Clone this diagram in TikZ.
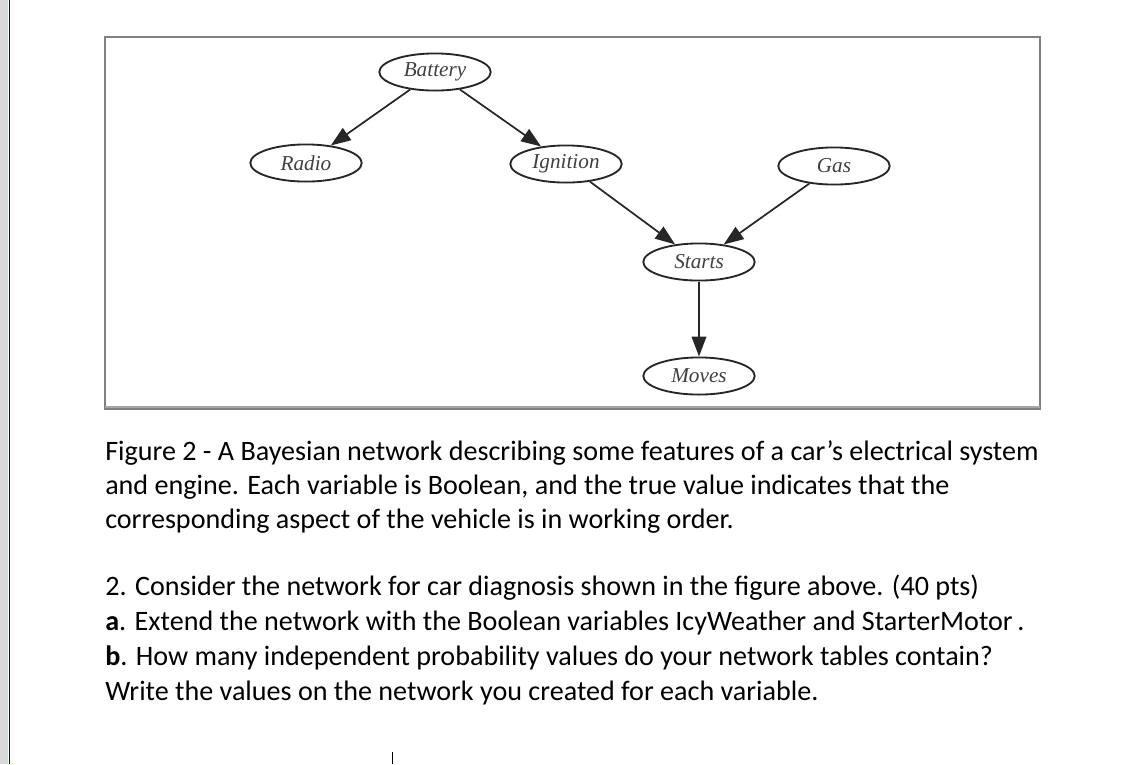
\documentclass[tikz,border=0pt]{standalone}
\usepackage{fontspec}
\setmainfont{Carlito}
\newfontfamily\tnr{Liberation Serif}
\usetikzlibrary{shapes.geometric,arrows.meta}
\begin{document}
\begin{tikzpicture}[x=0.0265cm,y=-0.0265cm,
 bn/.style={ellipse,draw=black!85,line width=1.4pt,minimum width=84pt,minimum height=28pt,inner sep=1pt,font=\tnr\itshape\fontsize{16}{17}\selectfont,text=black!75},
 ar/.style={-{Triangle[length=15pt,width=11pt]},line width=1.3pt,draw=black!85},
 tx/.style={anchor=base west,font=\fontsize{21.2}{24}\selectfont,inner sep=0}]
\useasboundingbox (0,0) rectangle (1122,764);
\fill[gray!30] (0,0) rectangle (8,764);
\draw[blue!70!black,line width=1.5pt] (9.5,0) -- (9.5,764);
\draw[gray,line width=0.8pt] (105,37) rectangle (1040,409);
\draw[gray!70,line width=1.5pt] (105,407) -- (1040,407);
\draw[line width=0.6pt] (392,752) -- (392,764);
\node[bn] (bat) at (435,72) {Battery};
\node[bn] (rad) at (306,163) {Radio};
\node[bn] (ign) at (566,164) {Ignition};
\node[bn] (gas) at (834,166) {Gas};
\node[bn] (sta) at (699,262) {Starts};
\node[bn] (mov) at (699,376) {Moves};
\draw[ar] (bat) -- (rad);
\draw[ar] (bat) -- (ign);
\draw[ar] (ign) -- (sta);
\draw[ar] (gas) -- (sta);
\draw[ar] (sta) -- (mov);
\node[tx] (l1) at (105,460) {Figure 2 - A Bayesian network describing some features of a car’s electrical system};
\node[tx] (l2) at (105,494) {and engine. Each variable is Boolean, and the true value indicates that the};
\node[tx] (l3) at (105,528) {corresponding aspect of the vehicle is in working order.};
\node[tx] (l4) at (105,595) {2. Consider the network for car diagnosis shown in the figure above. (40 pts)};
\node[tx] (l5) at (105,630) {\textbf{a}. Extend the network with the Boolean variables IcyWeather and StarterMotor\,.};
\node[tx] (l6) at (105,665) {\textbf{b}. How many independent probability values do your network tables contain?};
\node[tx] (l7) at (105,700) {Write the values on the network you created for each variable.};
\end{tikzpicture}
\end{document}
